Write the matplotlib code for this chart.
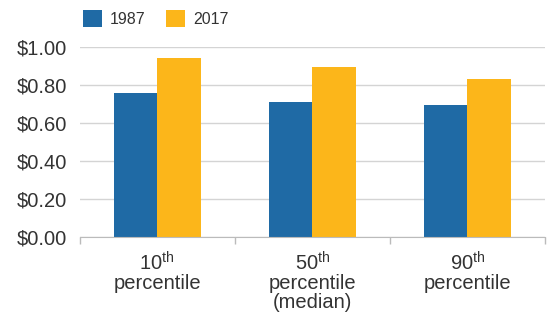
import matplotlib
matplotlib.use("Agg")
import matplotlib.pyplot as plt
import numpy as np
from matplotlib.patches import Patch

plt.rcParams["font.family"] = ["Liberation Sans", "DejaVu Sans"]
plt.rcParams["mathtext.fontset"] = "custom"
plt.rcParams["mathtext.rm"] = "Liberation Sans"

categories = ["10$^{\\mathrm{th}}$\npercentile", "50$^{\\mathrm{th}}$\npercentile\n(median)", "90$^{\\mathrm{th}}$\npercentile"]
series_names = ["1987", "2017"]
values_1987 = [0.755, 0.708, 0.696]
values_2017 = [0.939, 0.892, 0.829]
y_ticks = [0.0, 0.2, 0.4, 0.6, 0.8, 1.0]
y_labels = ["$0.00", "$0.20", "$0.40", "$0.60", "$0.80", "$1.00"]

blue = "#1f6aa5"
orange = "#fcb61a"
text_color = "#333333"

fig = plt.figure(figsize=(5.47, 3.14), dpi=100)
ax = fig.add_axes([0.1454, 0.2443, 0.8510, 0.6070])

x = np.arange(len(categories))
width = 0.28
ax.bar(x - width / 2, values_1987, width, color=blue, zorder=3)
ax.bar(x + width / 2, values_2017, width, color=orange, zorder=3)

ax.set_xlim(-0.5, len(categories) - 0.5)
ax.set_ylim(0, 1.0)
ax.set_yticks(y_ticks)
ax.set_yticklabels([s.replace("$", r"\$") for s in y_labels], fontsize=14.5, color=text_color)
ax.tick_params(axis="y", length=0, pad=9)

ax.set_xticks(x)
ax.set_xticklabels(categories, fontsize=14.5, color=text_color, linespacing=1.0)
ax.tick_params(axis="x", which="major", length=0, pad=10)
ax.set_xticks(np.arange(-0.5, len(categories)), minor=True)
ax.tick_params(axis="x", which="minor", length=5, color="#bbbbbb", width=1)

ax.grid(axis="y", color="#d4d4d4", linewidth=1, zorder=0)
for side in ["top", "right", "left"]:
    ax.spines[side].set_visible(False)
ax.spines["bottom"].set_color("#bbbbbb")
ax.spines["bottom"].set_zorder(4)

handles = [Patch(facecolor=blue, label=series_names[0]), Patch(facecolor=orange, label=series_names[1])]
fig.legend(handles=handles, loc="upper left", bbox_to_anchor=(0.125, 1.015), ncol=2, frameon=False,
           fontsize=11.5, handlelength=1.2, handleheight=1.3, handletextpad=0.5, columnspacing=1.3,
           labelcolor=text_color)

fig.savefig("out.png", dpi=100)
